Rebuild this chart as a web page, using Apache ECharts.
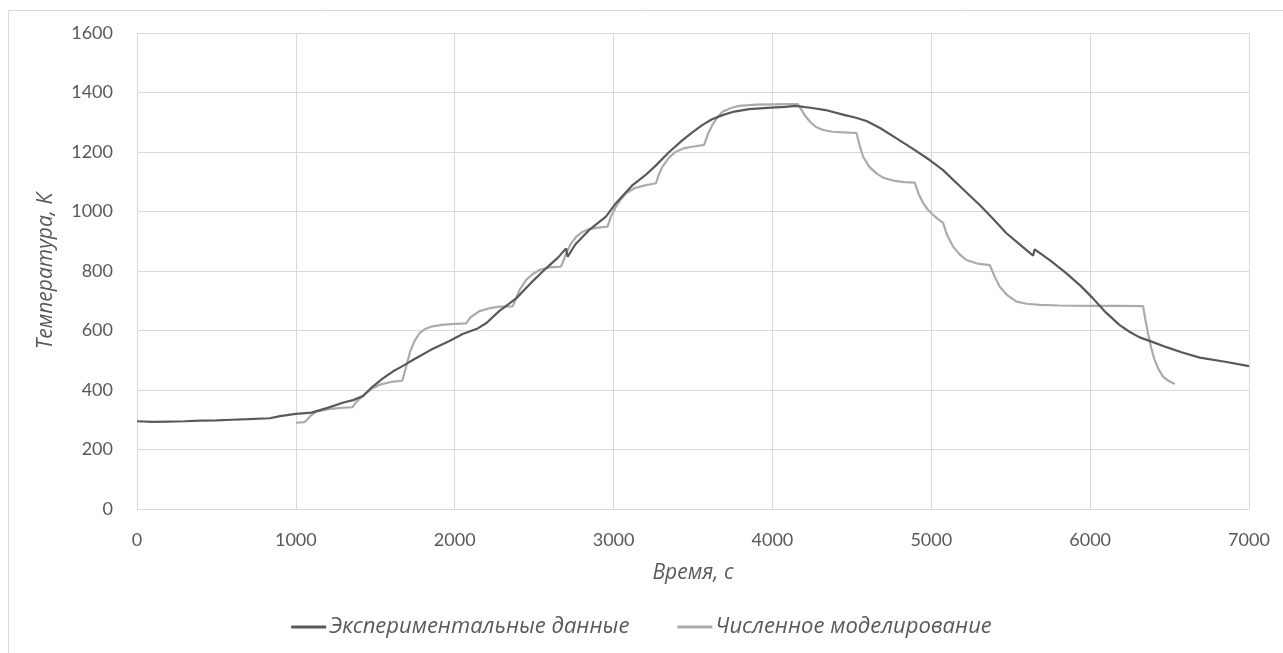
<!DOCTYPE html>
<html>
<head>
<meta charset="utf-8">
<script src="https://cdn.jsdelivr.net/npm/echarts@6/dist/echarts.min.js"></script>
<style>
  html, body { margin: 0; padding: 0; background: #ffffff; }
  #chart { width: 1283px; height: 653px; }
</style>
</head>
<body>
<div id="chart"></div>
<script>
// ---- Data ----
const seriesNames = ['Экспериментальные данные', 'Численное моделирование'];
const xTicks = [0, 1000, 2000, 3000, 4000, 5000, 6000, 7000];
const yTicks = [0, 200, 400, 600, 800, 1000, 1200, 1400, 1600];

const expTime = [0, 100, 200, 300, 400, 500, 600, 700, 836, 900, 1000, 1098, 1200, 1300, 1360, 1423, 1480, 1548, 1610, 1674, 1750, 1850, 1967, 2050, 2145, 2200, 2280, 2387, 2480, 2575, 2650, 2701, 2711, 2760, 2847, 2952, 3015, 3120, 3200, 3267, 3350, 3434, 3500, 3560, 3620, 3686, 3760, 3853, 3993, 4080, 4146, 4250, 4334, 4450, 4520, 4592, 4680, 4781, 4880, 4990, 5074, 5190, 5305, 5390, 5473, 5560, 5641, 5651, 5750, 5851, 5940, 6018, 6100, 6186, 6250, 6312, 6400, 6480, 6580, 6690, 6850, 7000];
const expTemp = [295, 293, 294, 295, 297, 298, 300, 302, 305, 312, 320, 324, 340, 358, 366, 380, 410, 439, 462, 481, 505, 535, 565, 588, 607, 625, 665, 708, 760, 809, 845, 876, 848, 890, 938, 983, 1028, 1089, 1122, 1155, 1200, 1240, 1268, 1291, 1310, 1324, 1336, 1344, 1349, 1352, 1355, 1348, 1341, 1325, 1316, 1304, 1280, 1246, 1212, 1173, 1139, 1080, 1022, 975, 927, 888, 852, 873, 835, 792, 750, 708, 660, 618, 595, 577, 560, 544, 526, 509, 495, 480];

const simTime = [1000, 1056, 1090, 1129, 1200, 1280, 1357, 1380, 1432, 1480, 1528, 1600, 1670, 1690, 1720, 1750, 1780, 1813, 1860, 1918, 2000, 2072, 2100, 2156, 2220, 2282, 2365, 2380, 2407, 2450, 2491, 2540, 2596, 2669, 2685, 2701, 2730, 2764, 2800, 2847, 2900, 2962, 2985, 3015, 3045, 3078, 3130, 3183, 3267, 3285, 3308, 3350, 3392, 3440, 3476, 3570, 3595, 3622, 3655, 3686, 3740, 3790, 3900, 3993, 4100, 4160, 4185, 4209, 4240, 4272, 4320, 4377, 4481, 4529, 4550, 4571, 4610, 4655, 4700, 4760, 4830, 4896, 4920, 4949, 4980, 5011, 5040, 5074, 5100, 5137, 5180, 5221, 5290, 5368, 5400, 5431, 5480, 5536, 5600, 5683, 5800, 6000, 6200, 6333, 6350, 6364, 6385, 6406, 6430, 6459, 6495, 6533];
const simTemp = [290, 292, 312, 327, 335, 340, 342, 360, 385, 405, 418, 427, 431, 470, 530, 568, 592, 605, 614, 619, 622, 624, 645, 665, 675, 680, 681, 700, 736, 770, 790, 805, 812, 815, 835, 859, 890, 915, 930, 941, 946, 949, 985, 1016, 1040, 1061, 1078, 1086, 1095, 1125, 1151, 1182, 1201, 1212, 1216, 1224, 1262, 1291, 1318, 1335, 1348, 1355, 1359, 1360, 1361, 1361, 1340, 1319, 1300, 1285, 1274, 1268, 1265, 1264, 1220, 1184, 1150, 1128, 1113, 1104, 1099, 1097, 1060, 1028, 1005, 989, 975, 962, 920, 882, 855, 837, 825, 820, 780, 747, 718, 697, 690, 686, 684, 683, 683, 682, 630, 591, 540, 501, 470, 445, 430, 420];

// ---- Build ----
const expData = expTime.map((t, i) => [t, expTemp[i]]);
const simData = simTime.map((t, i) => [t, simTemp[i]]);

const FONT = 'Lato, "Open Sans", sans-serif';
const TFONT = '"Open Sans", Lato, sans-serif';
const TXT = '#595959';
const GRID = '#d9d9d9';
const plain = v => String(v);

const chart = echarts.init(document.getElementById('chart'), null, { renderer: 'canvas' });
chart.setOption({
  animation: false,
  backgroundColor: '#ffffff',
  graphic: [{
    type: 'rect',
    shape: { x: 8.5, y: 10.5, width: 1400, height: 800 },
    style: { fill: 'none', stroke: GRID, lineWidth: 1 },
    silent: true
  }],
  grid: { left: 137, right: 34, top: 33, bottom: 144, containLabel: false },
  legend: {
    bottom: 10,
    left: 'center',
    itemGap: 48,
    itemWidth: 35,
    itemHeight: 3,
    icon: 'rect',
    textStyle: { fontFamily: TFONT, fontSize: 22, fontStyle: 'italic', color: TXT, padding: [0, 0, 0, -2] },
    data: seriesNames
  },
  xAxis: {
    type: 'value',
    min: xTicks[0],
    max: xTicks[xTicks.length - 1],
    interval: xTicks[1] - xTicks[0],
    name: 'Время, с',
    nameLocation: 'middle',
    nameGap: 54,
    nameTextStyle: { fontFamily: TFONT, fontSize: 21, fontStyle: 'italic', color: TXT },
    axisLine: { show: true, lineStyle: { color: GRID, width: 1 } },
    axisTick: { show: false },
    axisLabel: { fontFamily: FONT, fontSize: 18, color: TXT, margin: 22, formatter: plain },
    splitLine: { show: true, lineStyle: { color: GRID, width: 1 } }
  },
  yAxis: {
    type: 'value',
    min: yTicks[0],
    max: yTicks[yTicks.length - 1],
    interval: yTicks[1] - yTicks[0],
    name: 'Температура, К',
    nameLocation: 'middle',
    nameGap: 80,
    nameTextStyle: { fontFamily: TFONT, fontSize: 21, fontStyle: 'italic', color: TXT },
    axisLine: { show: false },
    axisTick: { show: false },
    axisLabel: { fontFamily: FONT, fontSize: 18, color: TXT, margin: 24, formatter: plain },
    splitLine: { show: true, lineStyle: { color: GRID, width: 1 } }
  },
  series: [
    {
      name: seriesNames[0],
      type: 'line',
      data: expData,
      showSymbol: false,
      smooth: false,
      lineStyle: { color: '#595959', width: 2.2 },
      itemStyle: { color: '#595959' },
      z: 3
    },
    {
      name: seriesNames[1],
      type: 'line',
      data: simData,
      showSymbol: false,
      smooth: false,
      lineStyle: { color: '#ababab', width: 2.2 },
      itemStyle: { color: '#ababab' },
      z: 2
    }
  ]
});
</script>
</body>
</html>
